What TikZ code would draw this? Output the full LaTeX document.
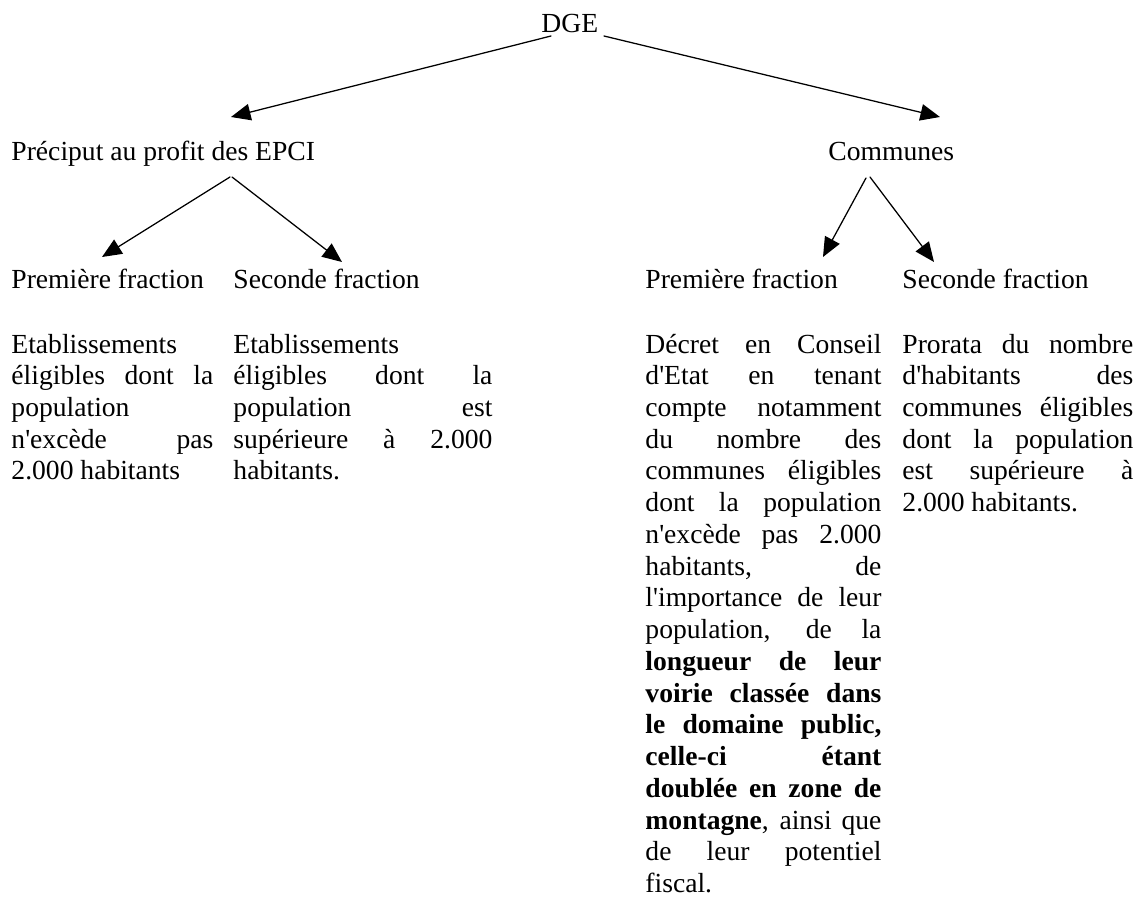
\documentclass[tikz,border=0pt]{standalone}
\usepackage{fontspec}
\setmainfont{Liberation Serif}[Ligatures={TeXOff,NoCommon}]
\usetikzlibrary{arrows.meta}

\tikzset{
	lbl/.style={anchor=base west, inner sep=0pt, font=\fontsize{12}{13.8}\selectfont},
	para/.style={lbl, align=justify, text width=#1,
		execute at begin node={\spaceskip=3pt plus 30pt minus 0.5pt\hyphenpenalty=10000\tolerance=10000}},
	arr/.style={-{Triangle[length=8.5pt,width=7.2pt]}, line width=0.55pt},
}

\begin{document}
\begin{tikzpicture}[x=0.4348pt, y=-0.4348pt, line join=round, line cap=round]
	\useasboundingbox (0,0) rectangle (1139,898);
	\node[lbl] (dge) at (541,33) {DGE};
	\node[lbl] (preciput) at (11,161) {Préciput au profit des EPCI};
	\node[lbl] (communes) at (828,161) {Communes};
	\node[lbl] (epcipremiere) at (11,289) {Première fraction};
	\node[lbl] (epciseconde) at (233,289) {Seconde fraction};
	\node[lbl] (compremiere) at (645,289) {Première fraction};
	\node[lbl] (comseconde) at (902,289) {Seconde fraction};
	\node[para=87.8pt] (epcipremieretxt) at (11,353) {Etablissements\\
		éligibles dont la\linebreak
		population\\
		n'excède pas\linebreak
		2.000 habitants};
	\node[para=112.6pt] (epcisecondetxt) at (233,353) {Etablissements\\
		éligibles dont la\linebreak
		population est\linebreak
		supérieure à 2.000\linebreak
		habitants.};
	\node[para=102.6pt] (compremieretxt) at (645,353) {Décret en Conseil\linebreak
		d'Etat en tenant\linebreak
		compte notamment\linebreak
		du nombre des\linebreak
		communes éligibles\linebreak
		dont la population\linebreak
		n'excède pas 2.000\linebreak
		habitants, de\linebreak
		l'importance de leur\linebreak
		population, de la\linebreak
		\textbf{longueur de leur\linebreak
		voirie classée dans\linebreak
		le domaine public,\linebreak
		celle-ci étant\linebreak
		doublée en zone de\linebreak
		montagne}, ainsi que\linebreak
		de leur potentiel\linebreak
		fiscal.};
	\node[para=100.4pt] (comsecondetxt) at (902,353) {Prorata du nombre\linebreak
		d'habitants des\linebreak
		communes éligibles\linebreak
		dont la population\linebreak
		est supérieure à\linebreak
		2.000 habitants.};
	\draw[arr] ([shift={(10,3)}]dge.base west) -- ([shift={(220,-44)}]preciput.base west);
	\draw[arr] ([shift={(63,3)}]dge.base west) -- ([shift={(112,-44)}]communes.base west);
	\draw[arr] ([shift={(219,16)}]preciput.base west) -- ([shift={(91,-32)}]epcipremiere.base west);
	\draw[arr] ([shift={(221,16)}]preciput.base west) -- ([shift={(109,-27)}]epciseconde.base west);
	\draw[arr] ([shift={(38,17)}]communes.base west) -- ([shift={(178,-32)}]compremiere.base west);
	\draw[arr] ([shift={(42,16)}]communes.base west) -- ([shift={(32,-27)}]comseconde.base west);
\end{tikzpicture}
\end{document}
